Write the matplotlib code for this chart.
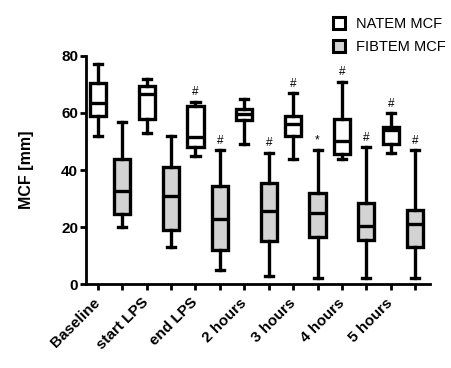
import numpy as np
import matplotlib
matplotlib.use('Agg')
from matplotlib import pyplot as plt
from matplotlib.lines import Line2D

plt.rcParams['font.family'] = ['Liberation Sans', 'DejaVu Sans']

# ---DATA--- (whisker low, Q1, median, Q3, whisker high)
groups = ['Baseline', 'start LPS', 'end LPS', '2 hours', '3 hours', '4 hours', '5 hours']
natem_lo = [52, 53, 45, 49, 44, 44, 46]
natem_q1 = [59, 58, 48, 57.5, 52, 45.5, 49]
natem_med = [63.5, 66.5, 51.5, 59.5, 56, 50, 54]
natem_q3 = [70.5, 69.5, 62.5, 61.5, 59, 58, 55]
natem_hi = [77, 72, 64, 65, 67, 71, 60]
fib_lo = [20, 13, 5, 3, 2, 2, 2]
fib_q1 = [24.5, 19, 12, 15, 16.5, 15.5, 13]
fib_med = [32.5, 31, 23, 25.5, 25, 20.5, 21]
fib_q3 = [44, 41, 34.5, 35.5, 32, 28.5, 26]
fib_hi = [57, 52, 47, 46, 47, 48, 47]
natem_sig = ['', '', '#', '', '#', '#', '#']
fib_sig = ['', '', '#', '#', '*', '#', '#']

fig = plt.figure(figsize=(4.52, 3.68), dpi=100)
ax = fig.add_axes([0.190, 0.228, 0.761, 0.620])

def stats(lo, q1, med, q3, hi):
    return [dict(whislo=a, q1=b, med=c, q3=d, whishi=e, fliers=[])
            for a, b, c, d, e in zip(lo, q1, med, q3, hi)]

pos_n = np.arange(len(groups)) * 2
pos_f = pos_n + 1
lw = 2.4
common = dict(widths=0.66, showfliers=False, patch_artist=True,
              whiskerprops=dict(lw=lw, color='black'),
              capprops=dict(lw=lw, color='black'),
              medianprops=dict(lw=lw, color='black'))
ax.bxp(stats(natem_lo, natem_q1, natem_med, natem_q3, natem_hi), positions=pos_n,
       boxprops=dict(lw=lw, edgecolor='black', facecolor='white'), **common)
ax.bxp(stats(fib_lo, fib_q1, fib_med, fib_q3, fib_hi), positions=pos_f,
       boxprops=dict(lw=lw, edgecolor='black', facecolor='#d3d3d3'), **common)

for p, h, s in zip(pos_n, natem_hi, natem_sig):
    if s:
        ax.text(p, h + 1.2, s, ha='center', va='bottom', fontsize=8.5)
for p, h, s in zip(pos_f, fib_hi, fib_sig):
    if s:
        ax.text(p, h + 1.2, s, ha='center', va='bottom', fontsize=8.5)

ax.set_xlim(-0.49, 13.6)
ax.set_ylim(0, 80)
ax.set_yticks([0, 20, 40, 60, 80])
ax.set_xticks(np.arange(14))
ax.set_xticklabels([''] * 14)
for p, g in zip(pos_n, groups):
    ax.text(p - 0.2, -4, g, rotation=45, ha='right', va='top', rotation_mode='anchor',
            fontsize=11, fontweight='bold')
for lab in ax.get_yticklabels():
    lab.set_fontweight('bold')
    lab.set_fontsize(11)
ax.tick_params(width=2, length=4, color='black', pad=1.5)
ax.spines['top'].set_visible(False)
ax.spines['right'].set_visible(False)
ax.spines['left'].set_linewidth(2)
ax.spines['bottom'].set_linewidth(2)
ax.set_ylabel('MCF [mm]', fontsize=11.5, fontweight='bold')
ax.yaxis.set_label_coords(-0.15, 0.5)

handles = [Line2D([], [], ls='none', marker='s', ms=8.5, mew=2.2, mec='black', mfc='white'),
           Line2D([], [], ls='none', marker='s', ms=8.5, mew=2.2, mec='black', mfc='#d3d3d3')]
fig.legend(handles, ['NATEM MCF', 'FIBTEM MCF'], loc='upper left', bbox_to_anchor=(0.705, 0.99),
           frameon=False, fontsize=10.5, handlelength=1.0, handletextpad=0.65, labelspacing=0.65)

fig.savefig('out.png', dpi=100)
